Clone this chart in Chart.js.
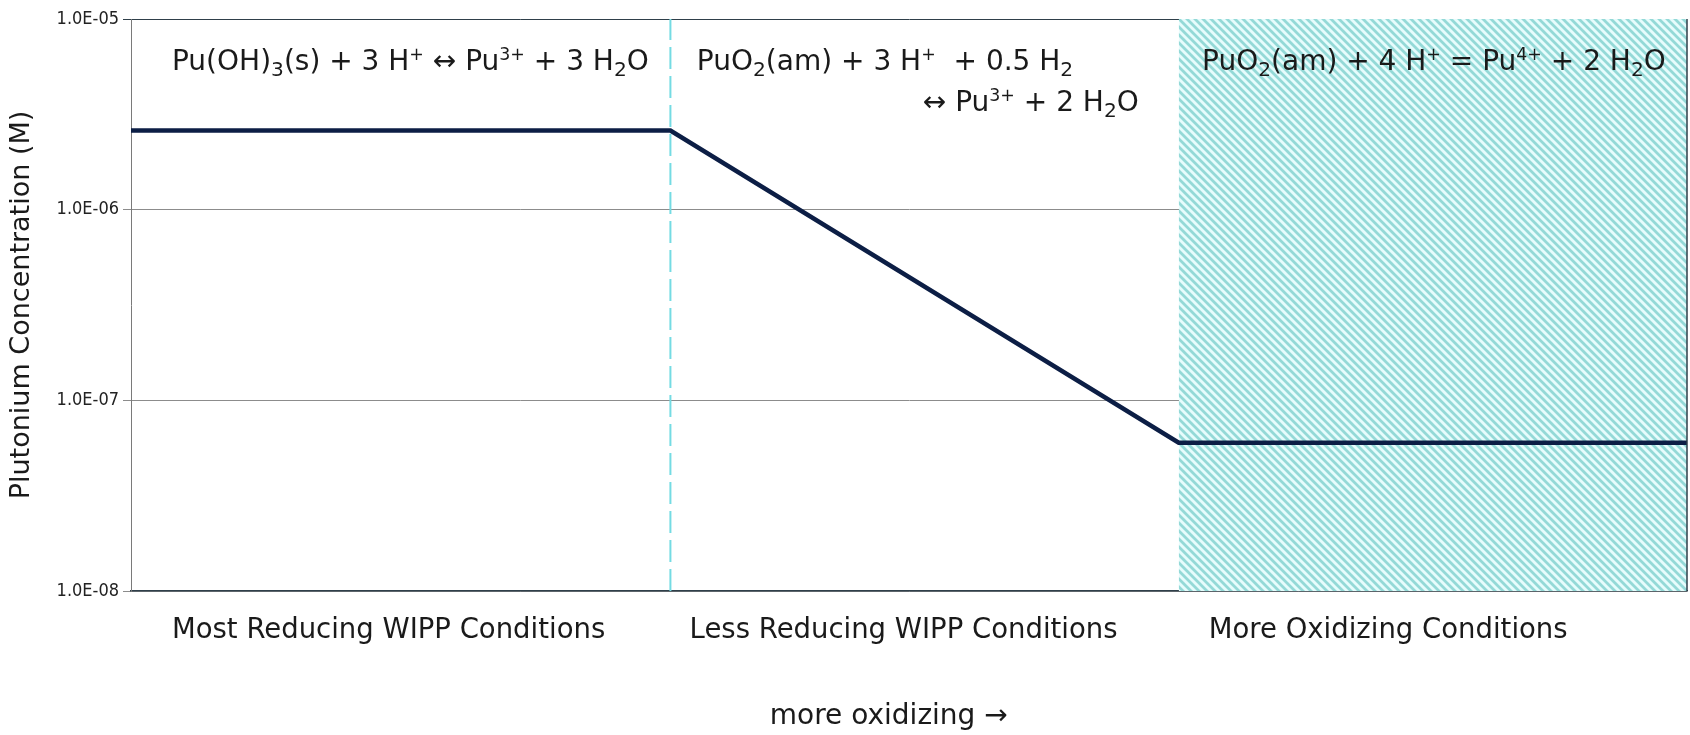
<!DOCTYPE html>
<html>
<head>
<meta charset="utf-8">
<title>Plutonium Concentration vs. Redox Conditions</title>
<script src="https://cdn.jsdelivr.net/npm/chart.js@4.4.0/dist/chart.umd.min.js"></script>
<style>
    html, body { margin: 0; padding: 0; background: #ffffff; }
    #wrap { position: relative; width: 1690px; height: 735px; }
</style>
</head>
<body>
<div id="wrap"><canvas id="puChart"></canvas></div>
<script>
// --- Data ---
const regions = ['Most Reducing WIPP Conditions', 'Less Reducing WIPP Conditions', 'More Oxidizing Conditions'];
const regionEdges = [0, 1.04, 2.02, 3];          // redox index where each region starts / ends
const curveX = [0, 1.04, 2.02, 3];
const curveY = [2.6e-6, 2.6e-6, 6.0e-8, 6.0e-8];  // Pu concentration (M)
const yTicks = [1e-8, 1e-7, 1e-6, 1e-5];
const yTickLabels = ['1.0E-08', '1.0E-07', '1.0E-06', '1.0E-05'];
// reactions, one list of lines per region (_{} = subscript, ^{} = superscript)
const reactions = [
    ['Pu(OH)_{3}(s) + 3 H^{+} \u2194 Pu^{3+} + 3 H_{2}O'],
    ['PuO_{2}(am) + 3 H^{+}  + 0.5 H_{2}', '\u2194 Pu^{3+} + 2 H_{2}O'],
    ['PuO_{2}(am) + 4 H^{+} = Pu^{4+} + 2 H_{2}O']
];
const xTitle = 'more oxidizing \u2192';
const yTitle = 'Plutonium Concentration (M)';

// --- Layout (where the texts sit: redox-index units for x, pixels for y) ---
const labelAt = [0.079, 1.077, 2.078];
// [x, align] per reaction line
const reactionAt = [[[0.079, 'left']], [[1.091, 'left'], [1.943, 'right']], [[2.065, 'left']]];
const reactionBaseline = [70, 111];
const xTitleAt = 1.461;
const FONT = "'DejaVu Sans', sans-serif";
const TICK_FONT = "'DejaVu Sans Condensed', 'DejaVu Sans', sans-serif";
const INK = '#1a1a1a';

Chart.defaults.font.family = FONT;

// teal diagonal hatch for the oxidizing region
function makeHatch() {
    const n = 8;
    const c = document.createElement('canvas');
    c.width = n; c.height = n;
    const g = c.getContext('2d');
    g.fillStyle = '#e6fcfc';
    g.fillRect(0, 0, n, n);
    g.strokeStyle = '#94d9d7';
    g.lineWidth = 2.8;
    g.beginPath();
    g.moveTo(-1, -1); g.lineTo(n + 1, n + 1);
    g.moveTo(n - 2, -2); g.lineTo(n + 2, 2);
    g.moveTo(-2, n - 2); g.lineTo(2, n + 2);
    g.stroke();
    return g.createPattern(c, 'repeat');
}

function richParts(str) {
    return str.split(/([_^]\{[^}]*\})/).filter(p => p.length);
}

// draws text with _{sub} and ^{sup} parts, returns width
function drawRich(ctx, str, x, y, size, dry) {
    let w = 0;
    ctx.textAlign = 'left';
    ctx.textBaseline = 'alphabetic';
    richParts(str).forEach(p => {
        let txt = p, s = size, dy = 0;
        if (p.startsWith('_{')) { txt = p.slice(2, -1); s = size * 0.72; dy = size * 0.2; }
        else if (p.startsWith('^{')) { txt = p.slice(2, -1); s = size * 0.62; dy = -size * 0.36; }
        ctx.font = s + 'px ' + FONT;
        if (!dry) ctx.fillText(txt, x + w, y + dy);
        w += ctx.measureText(txt).width;
    });
    return w;
}

const annotate = {
    id: 'annotate',
    afterDatasetsDraw(chart) {
        const { ctx, scales: { x } } = chart;
        ctx.save();
        ctx.fillStyle = INK;
        reactions.forEach((lines, r) => {
            lines.forEach((line, k) => {
                const [pos, align] = reactionAt[r][k];
                let px = x.getPixelForValue(pos);
                if (align === 'right') px -= drawRich(ctx, line, 0, 0, 28, true);
                drawRich(ctx, line, px, reactionBaseline[k], 28);
            });
        });
        ctx.restore();
    },
    afterDraw(chart) {
        const { ctx, chartArea, scales: { x } } = chart;
        ctx.save();
        // right frame line
        ctx.strokeStyle = '#2f3f4a';
        ctx.lineWidth = 1.5;
        ctx.beginPath();
        ctx.moveTo(chartArea.right, chartArea.top);
        ctx.lineTo(chartArea.right, chartArea.bottom);
        ctx.stroke();
        // axis caption under the region names
        ctx.fillStyle = INK;
        ctx.font = '28px ' + FONT;
        ctx.textAlign = 'center';
        ctx.textBaseline = 'alphabetic';
        ctx.fillText(xTitle, x.getPixelForValue(xTitleAt), 724);
        ctx.restore();
    }
};

new Chart(document.getElementById('puChart'), {
    type: 'line',
    data: {
        datasets: [
            {
                label: 'Pu concentration',
                data: curveX.map((v, i) => ({ x: v, y: curveY[i] })),
                borderColor: '#0c1e45',
                borderWidth: 4.5,
                pointRadius: 0,
                fill: false,
                order: 0
            },
            {
                label: 'boundary',
                data: [{ x: regionEdges[1], y: yTicks[0] }, { x: regionEdges[1], y: yTicks[yTicks.length - 1] }],
                borderColor: '#74dbe3',
                borderWidth: 2,
                borderDash: [22, 7],
                pointRadius: 0,
                fill: false,
                order: 1
            },
            {
                label: 'oxidizing',
                data: [{ x: regionEdges[2], y: yTicks[yTicks.length - 1] }, { x: regionEdges[3], y: yTicks[yTicks.length - 1] }],
                borderWidth: 0,
                borderColor: 'rgba(0,0,0,0)',
                backgroundColor: makeHatch(),
                pointRadius: 0,
                fill: 'start',
                order: 2
            }
        ]
    },
    options: {
        responsive: true,
        maintainAspectRatio: false,
        animation: false,
        events: [],
        layout: { padding: { top: 19, right: 3, left: 0, bottom: 0 } },
        plugins: {
            legend: { display: false },
            tooltip: { enabled: false }
        },
        scales: {
            x: {
                type: 'linear',
                min: regionEdges[0],
                max: regionEdges[3],
                z: 1,
                afterBuildTicks: s => { s.ticks = labelAt.map(v => ({ value: v })); },
                afterFit: s => { s.height = 144; },
                grid: { display: false },
                border: { color: '#2f3f4a', width: 1.5 },
                ticks: {
                    align: 'start',
                    autoSkip: false,
                    maxRotation: 0,
                    padding: 15,
                    color: INK,
                    font: { size: 27.5 },
                    callback: (v, i) => regions[i]
                }
            },
            y: {
                type: 'logarithmic',
                min: yTicks[0],
                max: yTicks[yTicks.length - 1],
                z: 1,
                afterBuildTicks: s => { s.ticks = yTicks.map(v => ({ value: v })); },
                afterFit: s => { s.width = 131; },
                grid: {
                    color: c => (c.tick && c.tick.value === yTicks[yTicks.length - 1]) ? '#2f3f4a' : '#8c8c8c',
                    lineWidth: 1,
                    tickLength: 8
                },
                border: { color: '#7a7a7a', width: 1 },
                ticks: {
                    padding: 4,
                    color: '#222222',
                    font: { size: 18, family: TICK_FONT },
                    callback: (v, i) => yTickLabels[i]
                },
                title: {
                    display: true,
                    text: yTitle,
                    color: INK,
                    font: { size: 27 },
                    padding: { top: 6, bottom: 0 }
                }
            }
        }
    },
    plugins: [annotate]
});
</script>
</body>
</html>
